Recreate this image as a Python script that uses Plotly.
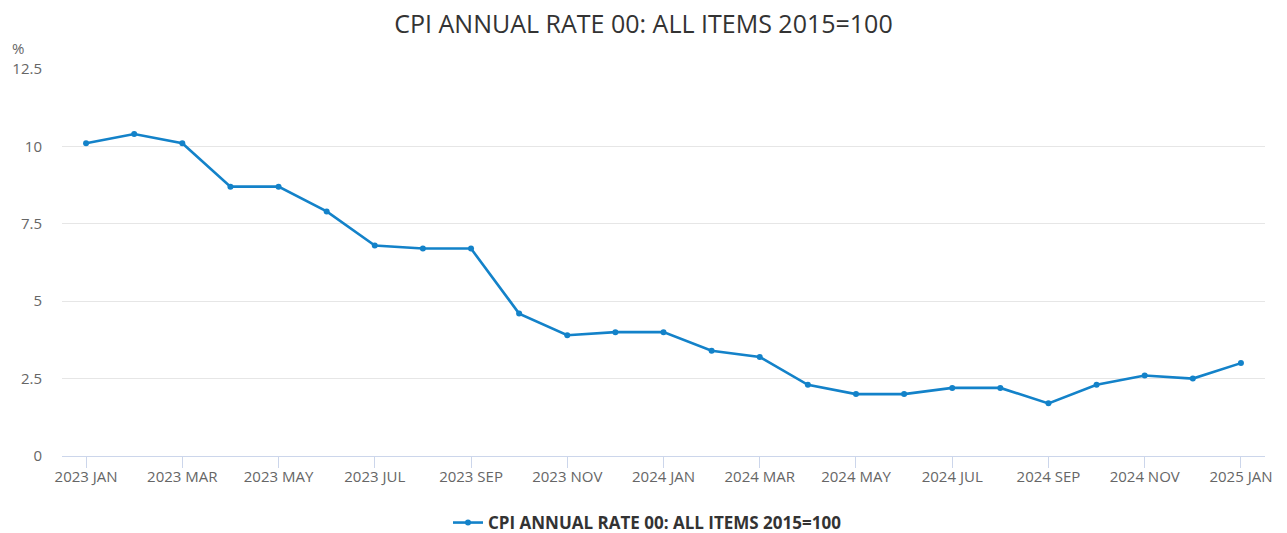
import plotly.graph_objects as go

months = ["2023 JAN","2023 FEB","2023 MAR","2023 APR","2023 MAY","2023 JUN","2023 JUL","2023 AUG",
          "2023 SEP","2023 OCT","2023 NOV","2023 DEC","2024 JAN","2024 FEB","2024 MAR","2024 APR",
          "2024 MAY","2024 JUN","2024 JUL","2024 AUG","2024 SEP","2024 OCT","2024 NOV","2024 DEC","2025 JAN"]
values = [10.1,10.4,10.1,8.7,8.7,7.9,6.8,6.7,6.7,4.6,3.9,4.0,4.0,3.4,3.2,2.3,2.0,2.0,2.2,2.2,1.7,2.3,2.6,2.5,3.0]
series_name = "CPI ANNUAL RATE 00: ALL ITEMS 2015=100"
y_ticks = [0, 2.5, 5, 7.5, 10, 12.5]
y_ticktext = ["0", "2.5", "5", "7.5", "10", "12.5"]

idx = list(range(len(months)))
tick_idx = idx[::2]
tick_text = months[::2]

font = "Open Sans"
color = "#1382c9"
fig = go.Figure()
fig.add_trace(go.Scatter(
    x=idx, y=values, mode="lines+markers", name=series_name,
    line=dict(color=color, width=2.6),
    marker=dict(size=6, color=color),
))
fig.update_layout(
    width=1287, height=533,
    paper_bgcolor="white", plot_bgcolor="white",
    margin=dict(l=62, r=22, t=69, b=77, autoexpand=False),
    title=dict(text="CPI ANNUAL RATE 00: ALL ITEMS 2015=100", x=0.5, xanchor="center",
               y=1 - 24/533, yanchor="middle",
               font=dict(family=font, size=25, color="#333333")),
    showlegend=True,
    legend=dict(orientation="h", xref="container", x=448/1287, xanchor="left", yref="container",
                y=1 - 523/533, yanchor="middle",
                font=dict(family=font, size=17, color="#333333", weight="bold")),
    font=dict(family=font),
)
fig.update_xaxes(
    range=[-0.5, len(months) - 0.5], automargin=False,
    tickvals=tick_idx, ticktext=tick_text,
    tickfont=dict(family=font, size=15, color="#666666"),
    showgrid=False, showline=True, linecolor="#ccd6eb", linewidth=1,
    ticks="outside", ticklen=11, tickcolor="#ccd6eb", zeroline=False,
    ticklabelstandoff=-4,
)
fig.update_yaxes(
    range=[0, 12.5], tickvals=y_ticks, ticktext=y_ticktext, automargin=False,
    tickfont=dict(family=font, size=15, color="#666666"),
    showgrid=True, gridcolor="#e6e6e6", gridwidth=1, zeroline=False,
    ticks="", ticklabelstandoff=19,
)
fig.add_annotation(text="%", xref="paper", yref="paper", x=-(62-10)/1203, xanchor="left",
                   y=1 + (69-48)/387, yanchor="middle", showarrow=False,
                   font=dict(family=font, size=15, color="#666666"))
fig.write_html("out.html", config={"displayModeBar": False},
               post_script="document.body.style.margin='0';")
